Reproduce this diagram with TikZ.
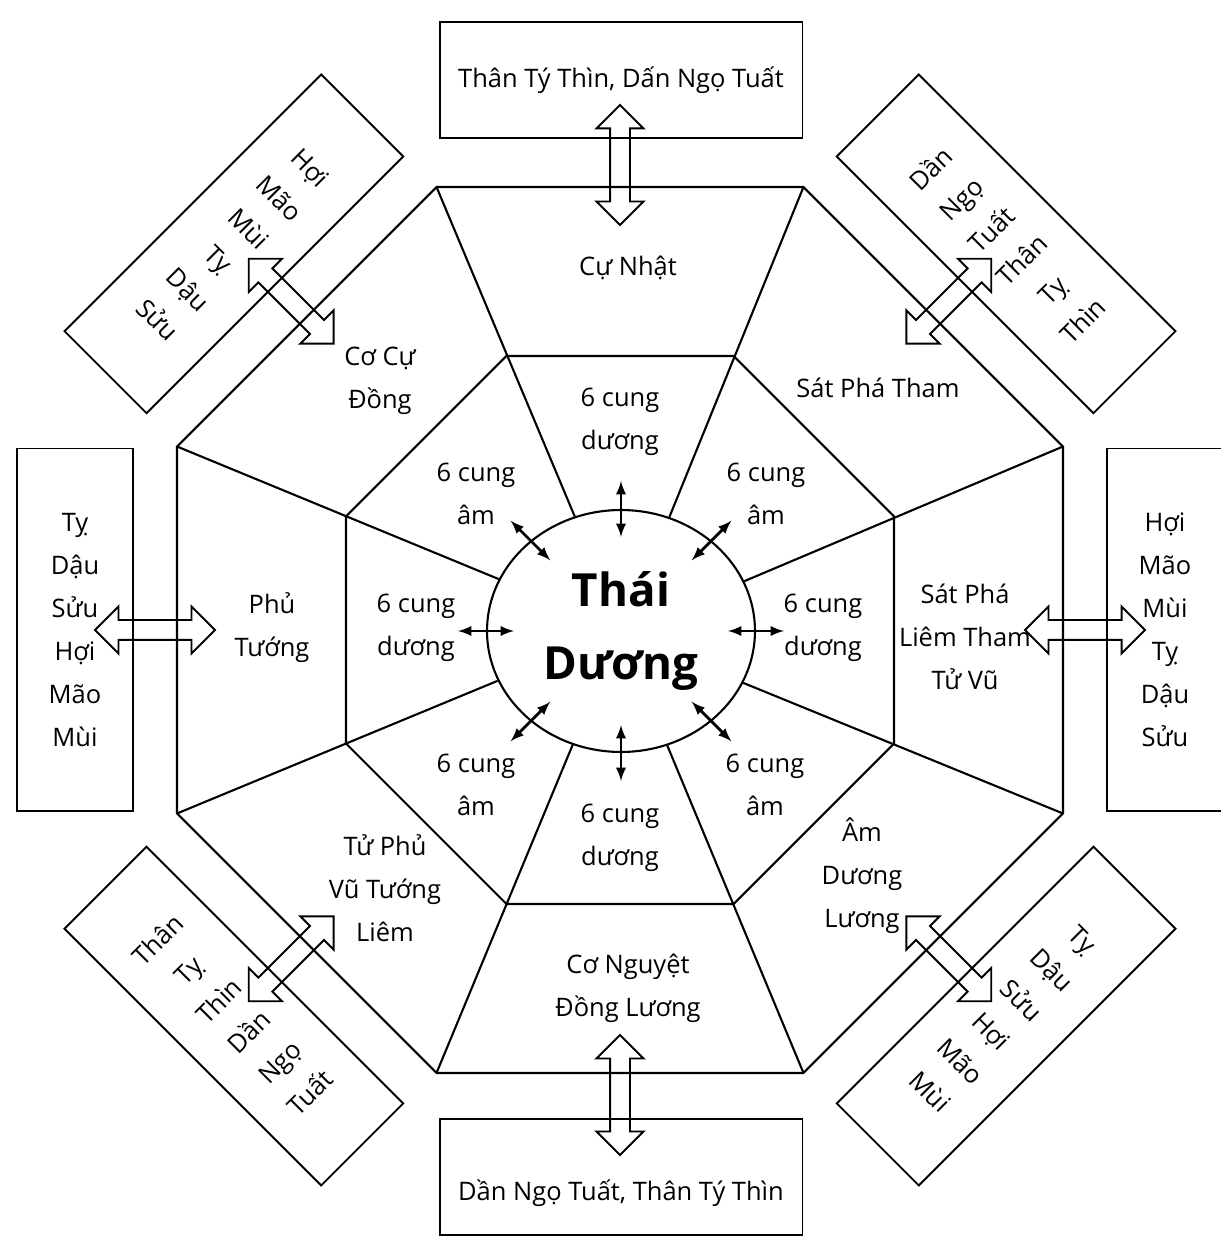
\documentclass[tikz,border=0pt]{standalone}
\usepackage{fontspec}
\setmainfont{Open Sans}
\usetikzlibrary{calc, arrows, shapes.geometric, shapes.arrows}

\tikzset{
  ring/.style={line width=1.2pt},
  sidebox/.style={draw, line width=1.1pt, align=center, inner sep=0pt, font=\fontsize{14.5}{24.5}\selectfont},
  longbox/.style={sidebox, minimum width=2.32cm, minimum height=7.26cm},
  widebox/.style={sidebox, minimum width=7.26cm, minimum height=2.32cm},
  hollow/.style={draw, double arrow, line width=1.1pt, minimum height=2.4cm, minimum width=0.9cm, double arrow head extend=0.27cm, inner sep=0.18cm},
  lbl/.style={align=center, font=\fontsize{14.5}{24.5}\selectfont},
}

\begin{document}
\begin{tikzpicture}[x=0.02cm, y=0.02cm]
\useasboundingbox (-620,-606) rectangle (600,630);

% outer and inner octagon
\draw[ring] (22.5:479.5) \foreach \k in {1,...,7} {-- ({22.5+45*\k}:479.5)} -- cycle;
\draw[ring] (22.5:296.6) \foreach \k in {1,...,7} {-- ({22.5+45*\k}:296.6)} -- cycle;

% centre
\node[draw, ring, ellipse, minimum width=5.36cm, minimum height=4.84cm, inner sep=0pt, align=center,
  font=\fontsize{26}{41}\selectfont\bfseries] (sun) at (1,-1) {Thái\\Dương};

\foreach \a in {22.5,67.5,...,337.5} % spokes
\draw[ring] (\a:479.5) -- (sun.\a);

\foreach \a in {0,45,...,315} % small arrows on the circle
\draw[line width=1.6pt, latex-latex] ($(sun.\a)+(\a:-28)$) -- ($(sun.\a)+(\a:28)$);

\foreach \a in {0,45,...,315} % hollow arrows to the boxes
\node[hollow, rotate=\a] (link\a) at (\a:465) {};

% boxes round the outside
\node[widebox] (boxN) at (1,550) {Thân Tý Thìn, Dấn Ngọ Tuất};
\node[widebox, text height=31pt, text depth=4pt] (boxS) at (1,-547) {Dần Ngọ Tuất, Thân Tý Thìn};
\node[longbox] (boxW) at (-545,0) {Tỵ\\Dậu\\Sửu\\Hợi\\Mão\\Mùi};
\node[longbox] (boxE) at (545,0) {Hợi\\Mão\\Mùi\\Tỵ\\Dậu\\Sửu};
\node[longbox, rotate=-45] (boxNW) at (135:546) {Hợi\\Mão\\Mùi\\Tỵ\\Dậu\\Sửu};
\node[longbox, rotate=45] (boxNE) at (45:546) {Dần\\Ngọ\\Tuất\\Thân\\Tỵ\\Thìn};
\node[longbox, rotate=45] (boxSW) at (225:546) {Thân\\Tỵ\\Thìn\\Dần\\Ngọ\\Tuất};
\node[longbox, rotate=-45] (boxSE) at (315:546) {Tỵ\\Dậu\\Sửu\\Hợi\\Mão\\Mùi};

% outer ring
\node[lbl] (cunhat) at (8,362) {Cự Nhật};
\node[lbl] (satpha) at (258,242) {Sát Phá Tham};
\node[lbl] (liemtham) at (345,-7) {Sát Phá\\Liêm Tham\\Tử Vũ};
\node[lbl] (amduong) at (242,-246) {Âm\\Dương\\Lương};
\node[lbl] (conguyet) at (8,-358) {Cơ Nguyệt\\Đồng Lương};
\node[lbl] (tuphu) at (-235,-258) {Tử Phủ\\Vũ Tướng\\Liêm};
\node[lbl] (phutuong) at (-348,2) {Phủ\\Tướng};
\node[lbl] (cocu) at (-240,249) {Cơ Cự\\Đồng};

% inner ring
\foreach \x/\y/\n in {0/208/dN, 203/2/dE, 0/-208/dS, -204/2/dW}
\node[lbl] (\n) at (\x,\y) {6 cung\\dương};
\foreach \x/\y/\n in {-144/136/aNW, 146/136/aNE, -144/-155/aSW, 145/-155/aSE}
\node[lbl] (\n) at (\x,\y) {6 cung\\âm};

\end{tikzpicture}
\end{document}
